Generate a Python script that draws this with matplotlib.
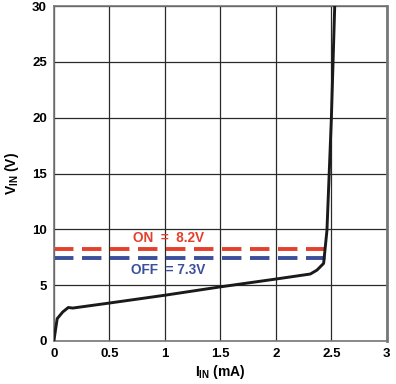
import matplotlib
matplotlib.use('Agg')
import matplotlib.pyplot as plt

plt.rcParams['font.family'] = 'Liberation Sans'
plt.rcParams['font.weight'] = 'bold'
plt.rcParams['mathtext.fontset'] = 'custom'
plt.rcParams['mathtext.rm'] = 'Liberation Sans:bold'
plt.rcParams['mathtext.bf'] = 'Liberation Sans:bold'

# I-V curve (mA, V)
i_in = [0.0, 0.03, 0.08, 0.13, 0.17, 0.5, 1.0, 1.5, 2.0, 2.31, 2.37, 2.43, 2.46, 2.50, 2.53]
v_in = [0.0, 2.0, 2.6, 3.0, 2.95, 3.4, 4.1, 4.85, 5.55, 6.0, 6.35, 6.95, 9.9, 20.0, 30.0]

v_on = 8.2
v_off = 7.45
thr_x = [0.0, 2.5]

xticks = [0, 0.5, 1, 1.5, 2, 2.5, 3]
xticklabels = ['0', '0.5', '1', '1.5', '2', '2.5', '3']
yticks = [0, 5, 10, 15, 20, 25, 30]

red = '#e4402c'
blue = '#3b4f9b'

fig = plt.figure(figsize=(3.96, 3.84), dpi=100)
ax = fig.add_axes([0.136, 0.112, 0.841, 0.872])

ax.plot(thr_x, [v_on, v_on], color=red, lw=2.8, dashes=(5, 2.2))
ax.plot(thr_x, [v_off, v_off], color=blue, lw=2.8, dashes=(5, 2.2))
ax.plot(i_in, v_in, color='#1a1a1a', lw=2.1, zorder=5)

ax.text(1.03, 9.2, 'ON  =  8.2V', color=red, fontsize=9.8, fontweight='bold',
        ha='center', va='center')
ax.text(1.03, 6.35, 'OFF  = 7.3V', color=blue, fontsize=9.8, fontweight='bold',
        ha='center', va='center')

ax.set_xlim(0, 3)
ax.set_ylim(0, 30)
ax.set_xticks(xticks)
ax.set_xticklabels(xticklabels)
ax.set_yticks(yticks)
ax.grid(True, color='#2a2a2a', lw=0.9)
ax.set_axisbelow(True)
ax.tick_params(length=0, labelsize=9.5, pad=5)
for s in ax.spines.values():
    s.set_color('#777777')
    s.set_linewidth(1.2)
ax.spines['right'].set_linewidth(2)

ax.set_xlabel(r'I$_{\mathbf{IN}}$ (mA)', fontsize=10, fontweight='bold', labelpad=2)
ax.set_ylabel(r'V$_{\mathbf{IN}}$ (V)', fontsize=10, fontweight='bold', labelpad=8)

fig.savefig('out.png', dpi=100)
